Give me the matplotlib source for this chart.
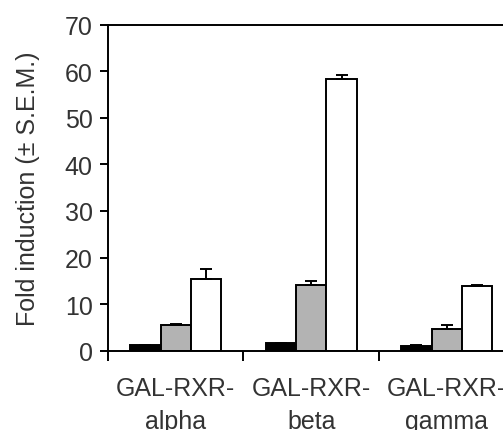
import numpy as np
import matplotlib.pyplot as plt

plt.rcParams['font.family'] = ['Liberation Sans', 'DejaVu Sans']

constructs = ["GAL-RXR-\nalpha", "GAL-RXR-\nbeta", "GAL-RXR-\ngamma"]
control = [1.2, 1.6, 1.1]
control_err = [0.1, 0.1, 0.1]
treat_low = [5.6, 14.0, 4.6]
treat_low_err = [0.2, 1.0, 1.0]
treat_high = [15.5, 58.4, 13.8]
treat_high_err = [2.1, 0.7, 0.2]

fig = plt.figure(figsize=(5.03, 4.31), dpi=100)
ax = fig.add_axes([0.2147, 0.184, 0.808, 0.7564])

x = np.arange(len(constructs))
w = 0.224
series = [(control, control_err, 'black'),
          (treat_low, treat_low_err, '#b3b3b3'),
          (treat_high, treat_high_err, 'white')]
for i, (vals, errs, col) in enumerate(series):
    pos = x + (i - 1) * w
    ax.bar(pos, vals, width=w, color=col, edgecolor='black', linewidth=1.4, zorder=2)
    ax.errorbar(pos, vals, yerr=[np.zeros(len(vals)), errs], fmt='none',
                ecolor='black', elinewidth=1.4, capsize=4.5, capthick=1.4, zorder=3)

ax.set_xlim(-0.5, 2.5)
ax.set_ylim(0, 70)
ax.set_yticks(range(0, 71, 10))
ax.set_xticks(x)
ax.set_xticklabels(constructs, linespacing=1.5)
ax.set_xticks([-0.5, 0.5, 1.5], minor=True)
ax.tick_params(axis='x', which='major', length=0, pad=18, labelsize=18, labelcolor='#333333')
ax.tick_params(axis='x', which='minor', length=7, width=1.4, direction='out')
ax.tick_params(axis='y', length=6, width=1.4, direction='out', labelsize=18,
               labelcolor='#333333', pad=5)

for side in ['left', 'bottom', 'top']:
    ax.spines[side].set_linewidth(1.4)
ax.spines['right'].set_visible(False)

ax.set_ylabel("Fold induction (± S.E.M.)", fontsize=18, color='#333333', labelpad=18)

fig.savefig("out.png", dpi=100)
